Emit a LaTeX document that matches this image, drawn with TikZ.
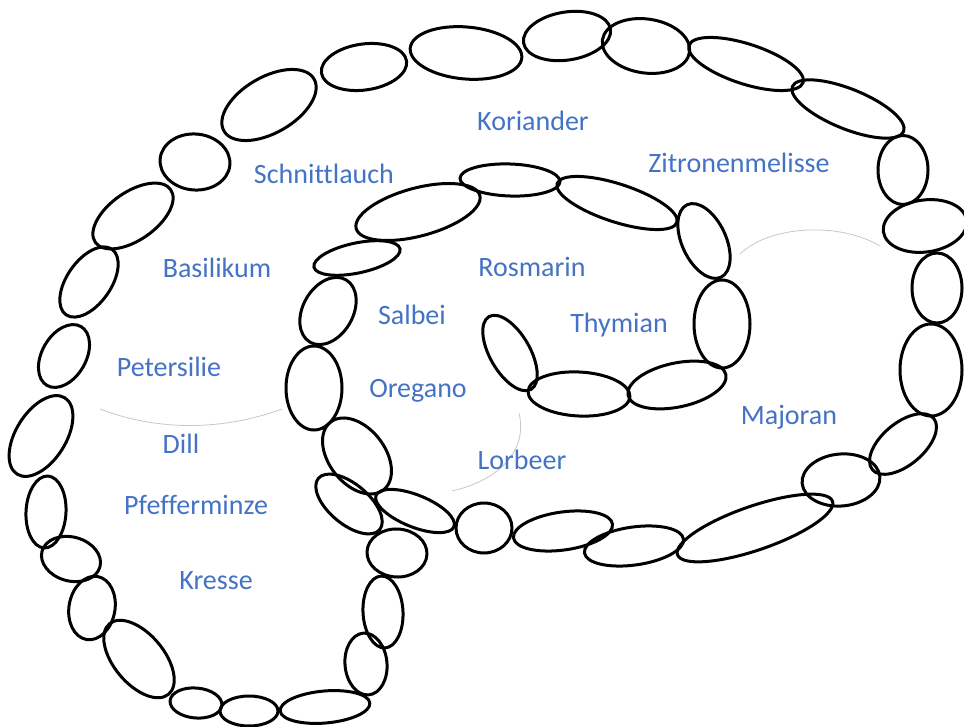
\documentclass[tikz,border=0pt]{standalone}
\usepackage{fontspec}
\setmainfont{Carlito}[Ligatures=CommonOff]
\usetikzlibrary{calc}
\definecolor{herbblue}{HTML}{4472C4}

\begin{document}
\begin{tikzpicture}[x=1pt,y=-1pt,
	bead/.style={line width=3pt,black},
	thread/.style={line width=0.8pt,black!22},
	herb/.style={anchor=base,text=herbblue,font=\fontsize{28}{34}\selectfont,inner sep=0pt}]
\useasboundingbox (0,0) rectangle (964,727);

% outer chain, top and right side
\foreach \x/\y/\a/\b/\r in {269/105/52/28/30, 364/67/43/23/8, 466/53/56/26/-5,
	567/36/44/24/9, 646/46/44/27/-8, 746/64/60/20/-18, 848/109/60/20/-22,
	903/170/25/34.5/0, 925/226/42/26/8, 937/288/25/35/0, 931/370/31/46/0,
	903/444/40/21/40, 841/480/39/26/5, 755/528/82/22/19, 634/546/50/19/8,
	563/531/50/19/8, 484/528/28/25/0, 415/511/42/16/-22}
	{
	\draw[bead, rotate around={\r:(\x,\y)}] (\x,\y) ellipse ({\a} and {\b});
	}

% inner chain, up the middle and round to the curl
\foreach \x/\y/\a/\b/\r in {349/504/40/20/-40, 357/456/43/28/-52, 314/388/28/42/0,
	328/311/36/25/60, 357/258/44/15/12, 418/212/64/24/15, 510/180/50/16/-2,
	617/203/63/19/-18, 704/241/40/22/-65, 722/324/28/44/0, 677/385/50/22/12,
	579/394/51/22/-3, 510/353/42/20/-60}
	{
	\draw[bead, rotate around={\r:(\x,\y)}] (\x,\y) ellipse ({\a} and {\b});
	}

% left loop
\foreach \x/\y/\a/\b/\r in {195/162/35/28/-5, 133/216/46/24/35, 89/282/40/22/55,
	64/356/34/22/60, 41/436/45/25/58, 46/512/20/36/-3, 71/559/30/22/-15,
	92/608/23/32/-10, 139/659/46/25/-50, 196/703/26/15/-5, 249/711/29/15/0,
	325/707/45/16/5, 366/664/21/31/5, 383/612/20/36/3, 397/553/30/24/-3}
	{
	\draw[bead, rotate around={\r:(\x,\y)}] (\x,\y) ellipse ({\a} and {\b});
	}

% thin grey threads
\coordinate (dillL) at (100,409);
\coordinate (dillR) at (282,409);
\coordinate (meliL) at (740,254);
\coordinate (meliR) at (880,246);
\coordinate (lorbT) at (519,413);
\coordinate (lorbB) at (452,491);
\draw[thread] (dillL) .. controls (160,432) and (225,430) .. (dillR);
\draw[thread] (meliL) .. controls (770,225) and (840,222) .. (meliR);
\draw[thread] (lorbT) .. controls (528,450) and (500,480) .. (lorbB);

% labels
\node[herb] (koriander) at (533,131) {Koriander};
\node[herb] (schnittlauch) at (324,184) {Schnittlauch};
\node[herb] (zitronenmelisse) at (739,173) {Zitronenmelisse};
\node[herb] (basilikum) at (217,278) {Basilikum};
\node[herb] (rosmarin) at (532,277) {Rosmarin};
\node[herb] (salbei) at (412,325) {Salbei};
\node[herb] (thymian) at (619,333) {Thymian};
\node[herb] (petersilie) at (169,377) {Petersilie};
\node[herb] (oregano) at (418,397) {Oregano};
\node[herb] (majoran) at (789,424) {Majoran};
\node[herb] (dill) at (181,453) {Dill};
\node[herb] (lorbeer) at (522,469) {Lorbeer};
\node[herb] (pfefferminze) at (196,514) {Pfefferminze};
\node[herb] (kresse) at (216,589) {Kresse};
\end{tikzpicture}
\end{document}
